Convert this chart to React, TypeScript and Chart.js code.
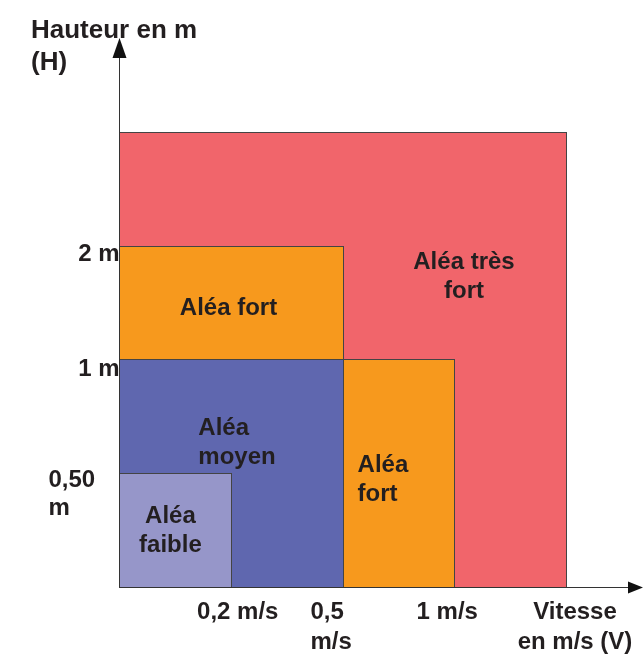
import React, { useEffect, useRef } from "react";
import { Chart, registerables } from "chart.js";

Chart.register(...registerables);

// Velocity classes (x index) and height classes (y index)
const xTickValues = [1, 2, 3, 4];
const xTickLabels = [["0,2 m/s"], ["0,5", "m/s"], ["1 m/s"], ["Vitesse", "en m/s (V)"]];
const yTickValues = [1, 2, 3];
const yTickLabels = [["0,50", "m"], ["1 m"], ["2 m"]];

// Hazard zones: [x0, x1], [y0, y1] in class indices
const zoneNames = ["Aléa très fort", "Aléa fort", "Aléa moyen", "Aléa fort", "Aléa faible"];
const zoneX = [[0, 4], [0, 2], [0, 2], [2, 3], [0, 1]];
const zoneY = [[0, 4], [2, 3], [0, 2], [0, 2], [0, 1]];
const zoneLabelLines = [["Aléa très", "fort"], ["Aléa fort"], ["Aléa", "moyen"], ["Aléa", "fort"], ["Aléa", "faible"]];
const zoneColors = ["#F1656B", "#F7991D", "#5F67AF", "#F7991D", "#9696C9"];

// label layout (anchor in scale units)
const zoneLabelStyle = [
  { ax: 3.087, ay: 2.745, align: "center" },
  { ax: 0.98, ay: 2.47, align: "center" },
  { ax: 0.71, ay: 1.288, align: "left" },
  { ax: 2.135, ay: 0.963, align: "left" },
  { ax: 0.46, ay: 0.515, align: "center" },
];

const FONT = "bold 24px 'Liberation Sans', Arial, Helvetica, sans-serif";
const TITLE_FONT = "bold 26px 'Liberation Sans', Arial, Helvetica, sans-serif";
const TEXT = "#231F20";

const diagramPlugin = {
  id: "diagram",
  afterDraw(chart: any) {
    const ctx = chart.ctx as CanvasRenderingContext2D;
    const xs = chart.scales.x;
    const ys = chart.scales.y;
    const px = (v: number) => Math.round(xs.getPixelForValue(v));
    const py = (v: number) => Math.round(ys.getPixelForValue(v));
    ctx.save();
    // zones
    zoneX.forEach((xr, i) => {
      const yr = zoneY[i];
      const x0 = px(xr[0]), x1 = px(xr[1]);
      const y0 = py(yr[1]), y1 = py(yr[0]);
      ctx.fillStyle = zoneColors[i];
      ctx.fillRect(x0, y0, x1 - x0, y1 - y0);
      ctx.strokeStyle = "#444";
      ctx.lineWidth = 1;
      ctx.strokeRect(x0 + 0.5, y0 + 0.5, x1 - x0, y1 - y0);
    });
    // zone labels
    ctx.font = FONT;
    ctx.fillStyle = TEXT;
    ctx.textBaseline = "alphabetic";
    zoneLabelLines.forEach((lines, i) => {
      const st = zoneLabelStyle[i];
      const cx = xs.getPixelForValue(st.ax);
      const cy = ys.getPixelForValue(st.ay);
      ctx.textAlign = st.align as CanvasTextAlign;
      const lh = 29;
      const top = cy - ((lines.length - 1) * lh) / 2 + 9;
      lines.forEach((l, k) => ctx.fillText(l, cx, top + k * lh));
    });
    // axes
    const ox = px(0) + 0.5;
    const oy = py(0) + 0.5;
    const topY = chart.chartArea.top;
    const rightX = chart.chartArea.right;
    ctx.strokeStyle = "#333";
    ctx.lineWidth = 1;
    ctx.beginPath();
    ctx.moveTo(ox, oy);
    ctx.lineTo(ox, topY + 15);
    ctx.moveTo(ox, oy);
    ctx.lineTo(rightX - 12, oy);
    ctx.stroke();
    ctx.fillStyle = "#111";
    ctx.beginPath();
    ctx.moveTo(ox, topY);
    ctx.lineTo(ox - 7, topY + 20);
    ctx.lineTo(ox + 7, topY + 20);
    ctx.closePath();
    ctx.fill();
    ctx.beginPath();
    ctx.moveTo(rightX, oy);
    ctx.lineTo(rightX - 15, oy - 6);
    ctx.lineTo(rightX - 15, oy + 6);
    ctx.closePath();
    ctx.fill();
    // x tick labels
    ctx.fillStyle = TEXT;
    ctx.font = FONT;
    const xOff = [[7, "center"], [-32, "left"], [-7, "center"], [9, "center"]];
    xTickValues.forEach((v, i) => {
      const x = xs.getPixelForValue(v) + (xOff[i][0] as number);
      ctx.textAlign = xOff[i][1] as CanvasTextAlign;
      xTickLabels[i].forEach((l, k) => ctx.fillText(l, x, oy + 31 + k * 30));
    });
    // y tick labels
    const yOff = [[-71, "left", 14], [0, "right", 17], [0, "right", 15]];
    yTickValues.forEach((v, i) => {
      const y = ys.getPixelForValue(v) + (yOff[i][2] as number);
      const x = ox + (yOff[i][0] as number);
      ctx.textAlign = yOff[i][1] as CanvasTextAlign;
      yTickLabels[i].forEach((l, k) => ctx.fillText(l, x, y + k * 28));
    });
    // y axis title
    ctx.font = TITLE_FONT;
    ctx.textAlign = "left";
    ctx.fillText("Hauteur en m", 31, 38);
    ctx.fillText("(H)", 31, 70);
    ctx.restore();
  },
};

export default function App() {
  const ref = useRef<HTMLCanvasElement | null>(null);
  useEffect(() => {
    if (!ref.current) return;
    const chart = new Chart(ref.current, {
      type: "scatter",
      data: { datasets: [{ data: [], pointRadius: 0 }] },
      options: {
        animation: false,
        responsive: false,
        devicePixelRatio: 1,
        layout: { padding: { left: 119, right: 0, top: 38, bottom: 68 } },
        plugins: { legend: { display: false }, tooltip: { enabled: false } },
        scales: {
          x: { type: "linear", min: 0, max: 4.689, display: false },
          y: { type: "linear", min: 0, max: 4.826, display: false },
        },
      },
      plugins: [diagramPlugin],
    });
    return () => chart.destroy();
  }, []);
  return (
    <div style={{ position: "fixed", left: 0, top: 0, width: 643, height: 655, background: "#fff" }}>
      <canvas ref={ref} width={643} height={655} />
    </div>
  );
}
